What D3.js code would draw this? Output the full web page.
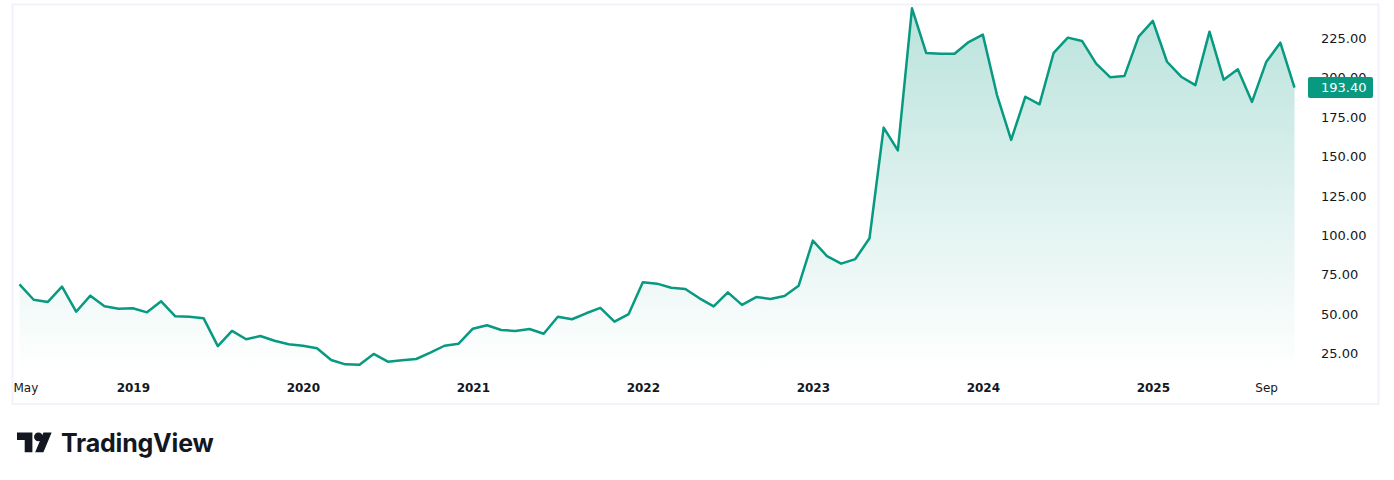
<!DOCTYPE html>
<html>
<head>
<meta charset="utf-8">
<script src="https://cdn.jsdelivr.net/npm/d3@7"></script>
<style>
  body { margin: 0; background: #ffffff; }
  svg { display: block; }
  .axis text { fill: #131722; font-family: "DejaVu Sans", sans-serif; }
</style>
</head>
<body>
<div id="main_frame"></div>
<script>
// monthly closes, May 2018 .. Nov 2025
var prices = [
    68.6, 58.8, 57.4, 67.1, 51.2, 61.4, 54.6, 53.1, 53.4, 50.8, 57.8, 48.3,
    48.0, 47.0, 29.4, 39.0, 33.7, 35.8, 32.8, 30.5, 29.6, 28.0, 20.6, 17.8,
    17.6, 24.4, 19.5, 20.4, 21.2, 25.2, 29.6, 30.9, 40.4, 42.6, 39.6, 39.0,
    40.2, 37.2, 48.0, 46.4, 50.2, 53.6, 44.9, 49.7, 69.9, 69.0, 66.4, 65.6,
    59.7, 54.6, 63.5, 55.5, 60.5, 59.3, 61.2, 67.7, 96.3, 86.5, 81.7, 84.6,
    97.8, 168.0, 153.6, 243.7, 215.4, 214.9, 214.9, 222.3, 227.0, 188.7, 160.2, 187.6,
    182.8, 215.5, 225.1, 223.0, 208.6, 199.9, 200.8, 225.7, 235.7, 209.8, 200.3, 195.0,
    228.9, 198.4, 205.0, 184.3, 209.6, 221.9, 193.4
];
var lastPrice = "193.40";

var xTickMonths = ["2018-05", "2019-01", "2020-01", "2021-01", "2022-01", "2023-01", "2024-01", "2025-01", "2025-09"];
var xTickLabels = ["May", "2019", "2020", "2021", "2022", "2023", "2024", "2025", "Sep"];
var yTicks = [25, 50, 75, 100, 125, 150, 175, 200, 225];

var width = 1394;
var height = 480;
var green = "#089981";

var fmtMonth = d3.utcFormat("%Y-%m");
var months = d3.utcMonths(new Date(Date.UTC(2018, 4, 1)), new Date(Date.UTC(2025, 11, 1))).map(fmtMonth);
var data = prices.map(function (p, i) { return { m: months[i], v: p }; });

var svg = d3.select("#main_frame")
            .append("svg")
            .attr("width", width)
            .attr("height", height);

// gradient for the area
var defs = svg.append("defs");
var grad = defs.append("linearGradient")
    .attr("id", "areaFill")
    .attr("gradientUnits", "userSpaceOnUse")
    .attr("x1", 0).attr("x2", 0)
    .attr("y1", 8).attr("y2", 372);
grad.append("stop").attr("offset", 0).attr("stop-color", green).attr("stop-opacity", 0.28);
grad.append("stop").attr("offset", 1).attr("stop-color", green).attr("stop-opacity", 0.0);

// outer pane border
svg.append("rect")
    .attr("x", 12.5).attr("y", 4.5)
    .attr("width", 1366).attr("height", 399.5)
    .attr("fill", "none")
    .attr("stroke", "#f0f3fa")
    .attr("stroke-width", 2);

// scales
var x = d3.scalePoint()
          .domain(months)
          .range([19.5, 1294.5]);

var y = d3.scaleLinear()
          .domain([25, 225])
          .range([353, 37.8]);

// area + line
var area = d3.area()
    .x(function (d) { return x(d.m); })
    .y0(372)
    .y1(function (d) { return y(d.v); });

var line = d3.line()
    .x(function (d) { return x(d.m); })
    .y(function (d) { return y(d.v); });

svg.append("path")
    .datum(data)
    .attr("d", area)
    .attr("fill", "url(#areaFill)");

svg.append("path")
    .datum(data)
    .attr("d", line)
    .attr("fill", "none")
    .attr("stroke", green)
    .attr("stroke-width", 2.5)
    .attr("stroke-linejoin", "round");

// price axis on the right
var yAxis = svg.append("g")
    .attr("class", "axis")
    .attr("transform", "translate(1321,0)")
    .call(d3.axisRight(y).tickValues(yTicks).tickFormat(d3.format(".2f")).tickSize(0).tickPadding(0));
yAxis.select(".domain").remove();
yAxis.selectAll("text").attr("font-size", 13).attr("dy", "0.36em");

// time axis
var xAxis = svg.append("g")
    .attr("class", "axis")
    .attr("transform", "translate(0,383)")
    .call(d3.axisBottom(x).tickValues(xTickMonths)
        .tickFormat(function (d) { return xTickLabels[xTickMonths.indexOf(d)]; })
        .tickSize(0).tickPadding(0));
xAxis.select(".domain").remove();
xAxis.selectAll("text")
    .attr("font-size", 12)
    .attr("dy", "0.71em")
    .attr("font-weight", function (d) { return /^\d+$/.test(xTickLabels[xTickMonths.indexOf(d)]) ? "bold" : "normal"; });
// first label is pushed inside the pane
xAxis.selectAll(".tick").filter(function (d, i) { return i === 0; })
    .select("text")
    .attr("text-anchor", "start")
    .attr("x", 13 - x(xTickMonths[0]));

// last price badge
var lastY = y(prices[prices.length - 1]);
svg.append("rect")
    .attr("x", 1308).attr("y", lastY - 10.5)
    .attr("width", 65).attr("height", 21)
    .attr("rx", 2)
    .attr("fill", green);
svg.append("text")
    .attr("x", 1321).attr("y", lastY)
    .attr("dy", "0.36em")
    .attr("fill", "#ffffff")
    .attr("font-family", "DejaVu Sans, sans-serif")
    .attr("font-size", 13)
    .text(lastPrice);

// TradingView logo
var logo = svg.append("g").attr("transform", "translate(17,428) scale(1.1)");
logo.append("path")
    .attr("d", "M14 22H7V11H0V4h14v18zM24 22h-7.5l7.5-18h7.5L24 22z")
    .attr("fill", "#131722");
logo.append("circle").attr("cx", 19.5).attr("cy", 8).attr("r", 4).attr("fill", "#131722");

svg.append("text")
    .attr("x", 61).attr("y", 452)
    .attr("fill", "#131722")
    .attr("font-family", "Inter, sans-serif")
    .attr("font-weight", 700)
    .attr("font-size", 25)
    .attr("letter-spacing", -0.2)
    .text("TradingView");
</script>
</body>
</html>
